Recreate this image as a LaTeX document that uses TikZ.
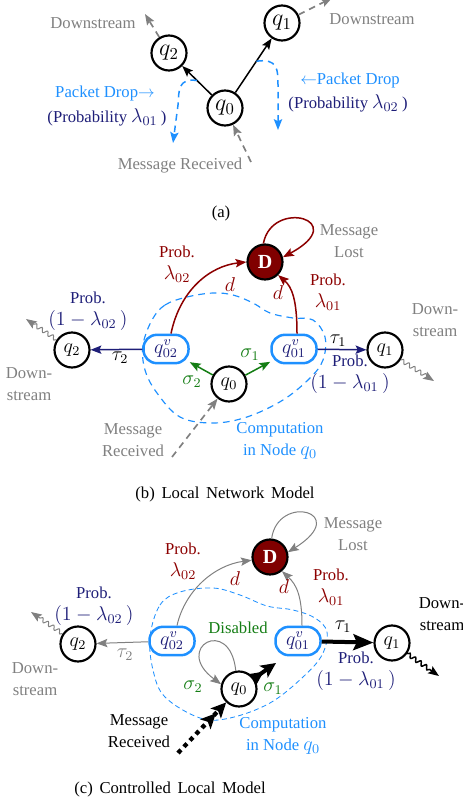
\documentclass[tikz,border=0pt]{standalone}
\usepackage[no-math]{fontspec}
\setmainfont{Liberation Serif}
\usetikzlibrary{arrows.meta,decorations.pathmorphing,calc}
\definecolor{dred}{RGB}{140,0,0}
\definecolor{dfill}{RGB}{128,0,0}
\definecolor{navyc}{RGB}{30,30,120}
\definecolor{dblue}{RGB}{30,144,255}
\definecolor{gc}{RGB}{20,125,20}
\definecolor{greyc}{RGB}{128,128,128}
% math set a little larger than the surrounding text
\newcommand{\mm}[1]{{\fontsize{11.5}{13}\selectfont$#1$}}
\tikzset{
  st/.style={circle,draw,line width=1.3pt,minimum size=21pt,inner sep=0pt,font=\large},
  stA/.style={st,font=\Large},
  vst/.style={draw=dblue,line width=1.5pt,rounded corners=8pt,minimum width=27pt,minimum height=17pt,inner sep=1pt,text=navyc,font=\large},
  dst/.style={circle,draw=black,fill=dfill,line width=1.3pt,minimum size=21pt,inner sep=0pt,text=white,font=\large\bfseries},
  tip/.style={-{Stealth[length=6.5pt,width=5pt,inset=1.2pt]}},
  bigtip/.style={-{Stealth[length=12pt,width=9.5pt,inset=2pt]}},
  dbltip/.style={-{Stealth[length=9pt,width=8.5pt,inset=2pt]Stealth[length=9pt,width=8.5pt,inset=2pt]}},
  lbl/.style={inner sep=0pt,align=center,font=\fontsize{10}{13}\selectfont},
  wig/.style={decorate,decoration={snake,amplitude=1.2pt,segment length=4pt,post length=5pt}},
  region/.style={draw=dblue,line width=0.7pt,dash pattern=on 4pt off 3pt},
}
\begin{document}
\begin{tikzpicture}[x=0.6pt,y=-0.6pt,font=\fontsize{10}{12}\selectfont]
\useasboundingbox (0,0) rectangle (462,804);

% ---------- (a) ----------
\node[stA] (a0) at (225,108) {$q_0$};
\node[stA] (a2) at (169,53) {$q_2$};
\node[stA] (a1) at (282,23) {$q_1$};
\draw[tip,line width=0.9pt] (a0) -- (a2);
\draw[tip,line width=0.9pt] (a0) -- (a1);
\coordinate (a2d) at (145,14);
\coordinate (a1d) at (332,-2);
\coordinate (amr) at (251,162);
\draw[tip,greyc,line width=1pt,dash pattern=on 4pt off 3pt] (a2) -- (a2d);
\draw[tip,greyc,line width=1pt,dash pattern=on 4pt off 3pt] (a1) -- (a1d);
\draw[tip,greyc,line width=1pt,dash pattern=on 4pt off 3pt] (amr) -- (a0);
\node[lbl,text=greyc] (la2) at (93,23) {Downstream};
\node[lbl,text=greyc] (la1) at (372,19) {Downstream};
\node[lbl,text=greyc] (lamr) at (180,166) {Message Received};
\coordinate (pl) at ($(a0)!0.5!(a2)$);
\coordinate (pr) at ($(a0)!0.55!(a1)$);
\draw[tip,dblue,line width=0.9pt,dash pattern=on 4pt off 3pt] (pl) .. controls (178,78) and (179,90) .. (178,105) -- (173,143);
\draw[tip,dblue,line width=0.9pt,dash pattern=on 4pt off 3pt] (pr) .. controls (278,58) and (278,70) .. (278,85) -- (278,130);
\node[lbl,text=dblue] (lpd1) at (105,93) {Packet Drop$\rightarrow$};
\node[lbl,text=navyc] (lpb1) at (107,117) {(Probability \mm{\lambda_{01}\,})};
\node[lbl,text=dblue] (lpd2) at (350,80) {$\leftarrow$Packet Drop};
\node[lbl,text=navyc] (lpb2) at (348,103) {(Probability \mm{\lambda_{02}\,})};
\node[lbl] (capa) at (221,213) {(a)};

% ---------- (b) ----------
\draw[region] plot[smooth cycle,tension=0.6] coordinates {(152,320) (165,305) (187,297) (213,293) (233,295) (253,303) (270,313) (293,318) (313,320) (325,337) (323,360) (310,378) (283,400) (247,417) (213,423) (180,417) (157,393) (145,370) (143,345)};
\node[dst] (bD) at (265,262) {D};
\node[vst] (bv2) at (166,349) {$q^v_{02}$};
\node[vst] (bv1) at (294,349) {$q^v_{01}$};
\node[st] (b0) at (229,384) {$q_0$};
\node[st] (b2) at (72,350) {$q_2$};
\node[st] (b1) at (385,350) {$q_1$};
\draw[tip,gc,line width=0.9pt] (b0) -- (bv2);
\draw[tip,gc,line width=0.9pt] (b0) -- (bv1);
\draw[tip,navyc,line width=0.9pt] (bv2) -- (b2);
\draw[tip,navyc,line width=0.9pt] (bv1) -- (b1);
\draw[tip,dred,line width=0.9pt] ([xshift=3pt]bv2.north) .. controls (180,290) and (210,266) .. (bD.west);
\draw[tip,dred,line width=0.9pt] ([xshift=1.8pt]bv1.north) .. controls (297,300) and (292,287) .. (bD.-45);
\draw[tip,dred,line width=0.9pt] (bD.95) .. controls (272,198) and (352,220) .. (bD.15);
\coordinate (b2d) at (26,319);
\coordinate (b1d) at (434,381);
\coordinate (bmr) at (172,457);
\draw[tip,greyc,line width=0.6pt,wig] (b2) -- (b2d);
\draw[tip,greyc,line width=0.6pt,wig] (b1) -- (b1d);
\draw[tip,greyc,line width=1pt,dash pattern=on 4pt off 3pt] (bmr) -- (b0);
\node[lbl,text=gc] (ls1) at (250,355) {\mm{\sigma_1}};
\node[lbl,text=gc] (ls2) at (192,382) {\mm{\sigma_2}};
\node[lbl] (lt2) at (120,358) {\mm{\tau_2}};
\node[lbl] (lt1) at (338,341) {\mm{\tau_1}};
\node[lbl,text=navyc] (lbp2) at (88,311) {Prob.\\\mm{(1-\lambda_{02}\,)}};
\node[lbl,text=navyc] (lbp1) at (350,374) {Prob.\\\mm{(1-\lambda_{01}\,)}};
\node[lbl,text=dred] (lbr2) at (177,264) {Prob.\\\mm{\lambda_{02}}};
\node[lbl,text=dred] (lbr1) at (328,292) {Prob.\\\mm{\lambda_{01}}};
\node[lbl,text=dred] (lbd2) at (230,285) {\mm{d}};
\node[lbl,text=dred] (lbd1) at (278,293) {\mm{d}};
\node[lbl,text=greyc] (lbml) at (349,241) {Message\\Lost};
\node[lbl,text=greyc] (lbdl) at (29,384) {Down-\\stream};
\node[lbl,text=greyc] (lbdr) at (435,320) {Down-\\stream};
\node[lbl,text=greyc] (lbmr) at (133,440) {Message\\Received};
\node[lbl,text=dblue] (lbcn) at (280,441) {Computation\\in Node \mm{q_0}};
\node[lbl] (capb) at (225,494) {(b)\hspace{4pt}Local\hspace{4pt}Network\hspace{4pt}Model};

% ---------- (c) ----------
\draw[region,line width=0.5pt,dash pattern=on 3pt off 2pt] plot[smooth cycle,tension=0.6] coordinates {(150,637) (160,605) (180,592) (213,588) (240,595) (267,606) (293,610) (315,618) (327,632) (322,655) (303,677) (270,703) (230,718) (200,718) (165,697) (153,670)};
\node[dst] (cD) at (270,557) {D};
\node[vst] (cv2) at (172,641) {$q^v_{02}$};
\node[vst] (cv1) at (298,641) {$q^v_{01}$};
\node[st] (c0) at (239,689) {$q_0$};
\node[st] (c2) at (78,644) {$q_2$};
\node[st] (c1) at (392,643) {$q_1$};
\draw[tip,greyc,line width=0.6pt] (cv2) -- (c2);
\draw[bigtip,line width=2.4pt] (cv1) -- (c1);
\draw[tip,greyc,line width=0.6pt] ([xshift=3pt]cv2.north) .. controls (185,590) and (215,565) .. (cD.190);
\draw[tip,greyc,line width=0.6pt] ([xshift=2.4pt]cv1.north) .. controls (302,597) and (297,585) .. (cD.-50);
\draw[tip,greyc,line width=0.6pt] (cD.85) .. controls (278,493) and (352,512) .. (cD.15);
\draw[tip,greyc,line width=0.6pt] (c0.100) .. controls (230,615) and (172,648) .. (c0.165);
\coordinate (c0t) at (276,663);
\coordinate (cmr) at (178,753);
\coordinate (c2d) at (31,612);
\coordinate (c1d) at (439,676);
\draw[dbltip,line width=2.4pt] (c0) -- (c0t);
\draw[dbltip,line width=2.6pt,dash pattern=on 2.6pt off 2.6pt] (cmr) -- (c0);
\draw[tip,greyc,line width=0.6pt,wig] (c2) -- (c2d);
\draw[tip,line width=0.9pt,wig] (c1) -- (c1d);
\node[lbl,text=gc] (lcs1) at (273,689) {\mm{\sigma_1}};
\node[lbl,text=gc] (lcs2) at (193,687) {\mm{\sigma_2}};
\node[lbl,text=gc] (lcdis) at (238,628) {Disabled};
\node[lbl,text=greyc] (lct2) at (125,655) {\mm{\tau_2}};
\node[lbl] (lct1) at (343,627) {\mm{\tau_1}};
\node[lbl,text=navyc] (lcp2) at (94,606) {Prob.\\\mm{(1-\lambda_{02}\,)}};
\node[lbl,text=navyc] (lcp1) at (356,671) {Prob.\\\mm{(1-\lambda_{01}\,)}};
\node[lbl,text=dred] (lcr2) at (183,561) {Prob.\\\mm{\lambda_{02}}};
\node[lbl,text=dred] (lcr1) at (331,587) {Prob.\\\mm{\lambda_{01}}};
\node[lbl,text=dred] (lcd2) at (235,579) {\mm{d}};
\node[lbl,text=dred] (lcd1) at (284,587) {\mm{d}};
\node[lbl,text=greyc] (lcml) at (353,534) {Message\\Lost};
\node[lbl,text=greyc] (lcdl) at (35,679) {Down-\\stream};
\node[lbl] (lcdr) at (442,614) {Down-\\stream};
\node[lbl] (lcmr) at (139,731) {Message\\Received};
\node[lbl,text=dblue] (lccn) at (283,736) {Computation\\in Node \mm{q_0}};
\node[lbl] (capc) at (170,789) {(c)\hspace{4pt}Controlled\hspace{4pt}Local\hspace{4pt}Model};
\end{tikzpicture}
\end{document}
